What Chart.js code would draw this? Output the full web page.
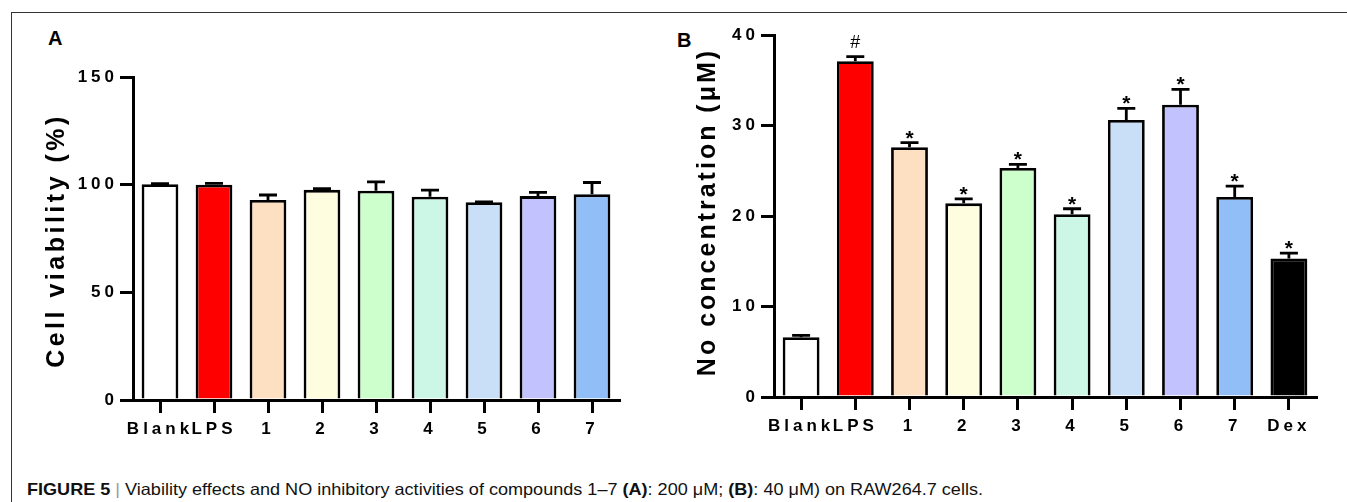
<!DOCTYPE html>
<html>
  <head>
    <script src="https://cdn.jsdelivr.net/npm/chart.js@4"></script>
    <style>
      body { margin: 0; background: #fff; width: 1347px; height: 502px; overflow: hidden; position: relative; font-family: 'Liberation Sans', Arial, sans-serif; }
      #frame { position: absolute; left: 11px; top: 12px; right: -2px; bottom: -2px; border-top: 1.5px solid #333; border-left: 1.5px solid #333; }
      .panel { position: absolute; font-weight: bold; font-size: 20px; color: #000; }
      canvas { position: absolute; top: 0; }
      #caption { position: absolute; left: 27px; top: 481px; font-size: 16.5px; line-height: 16px; white-space: nowrap; transform-origin: 0 0; font-family: 'Liberation Sans Narrow', 'Liberation Sans', Arial, sans-serif; color: #111; }
      #caption .sep { color: #999; font-weight: normal; }
    </style>
  </head>

  <body>
    <div id="frame"></div>
    <div class="panel" style="left:48px; top:27px;">A</div>
    <div class="panel" style="left:677px; top:29px;">B</div>
    <canvas id="chartA" width="660" height="450" style="left:0"></canvas>
    <canvas id="chartB" width="687" height="450" style="left:660px"></canvas>
    <div id="caption"><b>FIGURE 5</b> <span class="sep">|</span> Viability effects and NO inhibitory activities of compounds 1–7 <b>(A)</b>: 200 μM; <b>(B)</b>: 40 μM) on RAW264.7 cells.</div>
    <script>
      // panel A: cell viability (%)
      const labelsA = ['Blank', 'LPS', '1', '2', '3', '4', '5', '6', '7'];
      const viability = [100.2, 100, 92.9, 97.6, 97.2, 94.4, 91.8, 94.7, 95.5];
      const viabilityErr = [0.3, 0.6, 2.3, 0.6, 4.1, 3.1, 0.2, 1.7, 5.5];

      // panel B: NO concentration (uM)
      const labelsB = ['Blank', 'LPS', '1', '2', '3', '4', '5', '6', '7', 'Dex'];
      const noConc = [6.6, 37.1, 27.6, 21.4, 25.3, 20.2, 30.6, 32.3, 22.1, 15.3];
      const noConcErr = [0.2, 0.5, 0.5, 0.5, 0.4, 0.6, 1.3, 1.7, 1.2, 0.6];
      const marksB = ['', '#', '*', '*', '*', '*', '*', '*', '*', '*'];

      const colors = ['#ffffff', '#ff0000', '#fddfc2', '#fffde0', '#ccffcc', '#ccf7e6', '#c9def7', '#c2c2ff', '#91bef7', '#000000'];

      // error bars, significance marks and spaced-out axis titles
      const prismPlugin = {
        id: 'prism',
        beforeDraw(chart) {
          chart.ctx.letterSpacing = '4px';
        },
        afterDatasetsDraw(chart, args, opts) {
          const ctx = chart.ctx;
          const y = chart.scales.y;
          const meta = chart.getDatasetMeta(0);
          const vals = chart.data.datasets[0].data;
          ctx.save();
          ctx.strokeStyle = '#000';
          ctx.lineWidth = 2.8;
          meta.data.forEach((bar, i) => {
            const top = y.getPixelForValue(vals[i] + opts.err[i]);
            ctx.beginPath();
            ctx.moveTo(bar.x, bar.y);
            ctx.lineTo(bar.x, top);
            ctx.moveTo(bar.x - 9, top);
            ctx.lineTo(bar.x + 9, top);
            ctx.stroke();
            const m = opts.marks ? opts.marks[i] : '';
            if (m) {
              ctx.letterSpacing = '0px';
              ctx.fillStyle = '#000';
              ctx.textAlign = 'center';
              if (m === '#') {
                ctx.font = '18px "Liberation Sans", Arial';
                ctx.textBaseline = 'middle';
                ctx.fillText(m, bar.x, top - 14);
              } else {
                ctx.font = 'bold 21px "Liberation Sans", Arial';
                ctx.textBaseline = 'alphabetic';
                ctx.fillText(m, bar.x, top + 2);
              }
            }
          });
          ctx.restore();
        },
        afterDraw(chart, args, opts) {
          const ctx = chart.ctx;
          const a = chart.chartArea;
          ctx.save();
          ctx.letterSpacing = opts.spacing;
          ctx.font = 'bold 25px "Liberation Sans", Arial';
          ctx.fillStyle = '#000';
          ctx.textAlign = 'center';
          ctx.textBaseline = 'middle';
          ctx.translate(a.left - opts.offset, (a.top + a.bottom) / 2 + opts.shift);
          ctx.rotate(-Math.PI / 2);
          ctx.fillText(opts.title, 0, 0);
          ctx.restore();
        }
      };

      function axisStyle(max, step, yWidth, xHeight) {
        const tickFont = { family: '"Liberation Sans", Arial', size: 17, weight: 'bold' };
        return {
          y: {
            min: 0, max: max,
            ticks: { stepSize: step, color: '#000', font: tickFont, padding: 2 },
            grid: { drawOnChartArea: false, tickLength: 13, color: '#000', lineWidth: 3 },
            border: { color: '#000', width: 3 },
            afterFit: (s) => { s.width = yWidth; }
          },
          x: {
            ticks: { color: '#000', font: tickFont, padding: 6, maxRotation: 0, autoSkip: false },
            grid: { offset: false, drawOnChartArea: false, tickLength: 13, color: '#000', lineWidth: 3 },
            border: { color: '#000', width: 3 },
            afterFit: (s) => { s.height = xHeight; }
          }
        };
      }

      new Chart(document.getElementById('chartA').getContext('2d'), {
        type: 'bar',
        data: {
          labels: labelsA,
          datasets: [{
            data: viability,
            backgroundColor: colors.slice(0, labelsA.length),
            borderColor: '#000',
            borderWidth: 2.8,
            categoryPercentage: 1,
            barPercentage: 0.68
          }]
        },
        options: {
          responsive: false,
          animation: false,
          layout: { padding: { top: 77, right: 41, left: 0, bottom: 0 } },
          plugins: {
            legend: { display: false },
            tooltip: { enabled: false },
            prism: { err: viabilityErr, title: 'Cell viability (%)', offset: 76, shift: 2, spacing: '3.5px' }
          },
          scales: axisStyle(150, 50, 133, 50)
        },
        plugins: [prismPlugin]
      });

      new Chart(document.getElementById('chartB').getContext('2d'), {
        type: 'bar',
        data: {
          labels: labelsB,
          datasets: [{
            data: noConc,
            backgroundColor: colors,
            borderColor: '#000',
            borderWidth: 2.8,
            categoryPercentage: 1,
            barPercentage: 0.68
          }]
        },
        options: {
          responsive: false,
          animation: false,
          layout: { padding: { top: 35, right: 31, left: 0, bottom: 0 } },
          plugins: {
            legend: { display: false },
            tooltip: { enabled: false },
            prism: { err: noConcErr, marks: marksB, title: 'No concentration (μM)', offset: 66, shift: -4, spacing: '3px' }
          },
          scales: axisStyle(40, 10, 114, 53)
        },
        plugins: [prismPlugin]
      });

      // squeeze the caption to the width it has in the figure
      const cap = document.getElementById('caption');
      cap.style.transform = 'scaleX(' + (956 / cap.getBoundingClientRect().width) + ')';
    </script>
  </body>
</html>
